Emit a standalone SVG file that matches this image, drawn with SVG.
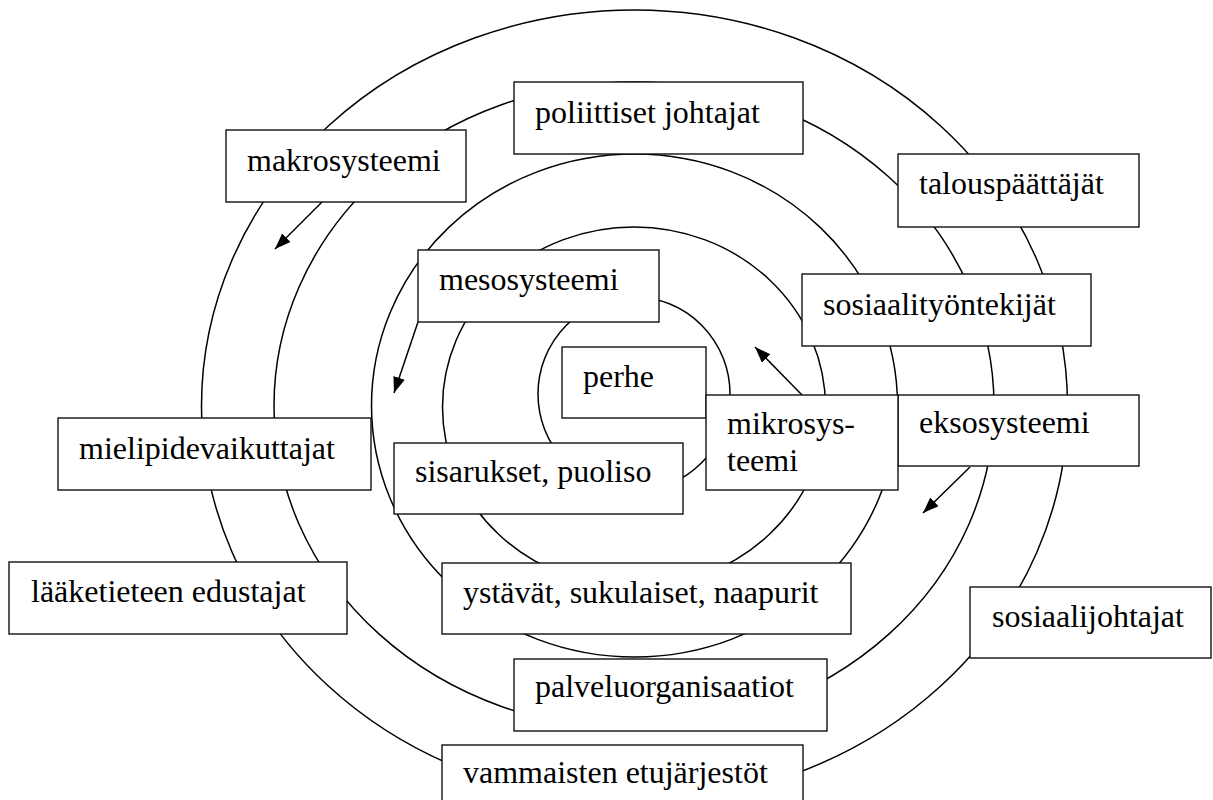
<svg xmlns="http://www.w3.org/2000/svg" width="1213" height="800" viewBox="0 0 1213 800">
<style>
.ring{fill:none;stroke:#000;stroke-width:1.5}
.box{fill:#fff;stroke:#111;stroke-width:1.4}
.t{font-family:'Liberation Serif',serif;font-size:32px;fill:#000}
.arr{stroke:#000;stroke-width:1.5;fill:none;marker-end:url(#ah)}
</style>
<defs>
<marker id="ah" markerUnits="userSpaceOnUse" markerWidth="18" markerHeight="14" refX="16" refY="6" orient="auto">
<path d="M0,0 L16,6 L0,12 z" fill="#000"/>
</marker>
</defs>
<rect width="1213" height="800" fill="#fff"/>
<g id="rings">
<ellipse class="ring" cx="634.5" cy="406" rx="433" ry="396"/>
<ellipse class="ring" cx="634" cy="405.6" rx="360" ry="323.6"/>
<ellipse class="ring" cx="634.5" cy="405.5" rx="263" ry="251.5"/>
<ellipse class="ring" cx="634" cy="407" rx="191.5" ry="180"/>
<ellipse class="ring" cx="634" cy="394" rx="96" ry="97"/>
</g>
<g id="connectors">
<line class="arr" x1="322" y1="202" x2="275" y2="249"/>
<line class="arr" x1="418" y1="322" x2="394" y2="393"/>
<line class="arr" x1="802" y1="395" x2="755" y2="347"/>
<line class="arr" x1="970" y1="467" x2="923" y2="513"/>
</g>
<g font-family="Liberation Serif, serif" font-size="32">
<g id="makrosysteemi"><rect class="box" x="226" y="130" width="240" height="72"/><text class="t" x="247" y="171">makrosysteemi</text></g>
<g id="poliittiset"><rect class="box" x="514" y="82" width="289" height="72"/><text class="t" x="535" y="123">poliittiset johtajat</text></g>
<g id="talous"><rect class="box" x="898" y="154" width="241" height="73"/><text class="t" x="919" y="194">talouspäättäjät</text></g>
<g id="mesosysteemi"><rect class="box" x="418" y="250" width="241" height="72"/><text class="t" x="439" y="290">mesosysteemi</text></g>
<g id="sosiaalityontekijat"><rect class="box" x="802" y="274" width="289" height="72"/><text class="t" x="823" y="315">sosiaalityöntekijät</text></g>
<g id="perhe"><rect class="box" x="562" y="347" width="144" height="71"/><text class="t" x="583" y="387">perhe</text></g>
<g id="eksosysteemi"><rect class="box" x="898" y="395" width="241" height="71"/><text class="t" x="919" y="433">eksosysteemi</text></g>
<g id="mikrosysteemi"><rect class="box" x="706" y="395" width="192" height="95"/><text class="t" x="727" y="434">mikrosys-</text><text class="t" x="727" y="471">teemi</text></g>
<g id="mielipide"><rect class="box" x="58" y="418" width="313" height="72"/><text class="t" x="79" y="459">mielipidevaikuttajat</text></g>
<g id="sisarukset"><rect class="box" x="394" y="443" width="289" height="71"/><text class="t" x="415" y="482">sisarukset, puoliso</text></g>
<g id="laaketieteen"><rect class="box" x="9" y="562" width="338" height="72"/><text class="t" x="31" y="602">lääketieteen edustajat</text></g>
<g id="ystavat"><rect class="box" x="442" y="563" width="409" height="71"/><text class="t" x="463" y="603">ystävät, sukulaiset, naapurit</text></g>
<g id="sosiaalijohtajat"><rect class="box" x="970" y="587" width="241" height="71"/><text class="t" x="992" y="627">sosiaalijohtajat</text></g>
<g id="palvelu"><rect class="box" x="514" y="659" width="313" height="72"/><text class="t" x="535" y="697">palveluorganisaatiot</text></g>
<g id="vammaisten"><rect class="box" x="442" y="745" width="361" height="72"/><text class="t" x="463" y="783">vammaisten etujärjestöt</text></g>
</g>
</svg>
